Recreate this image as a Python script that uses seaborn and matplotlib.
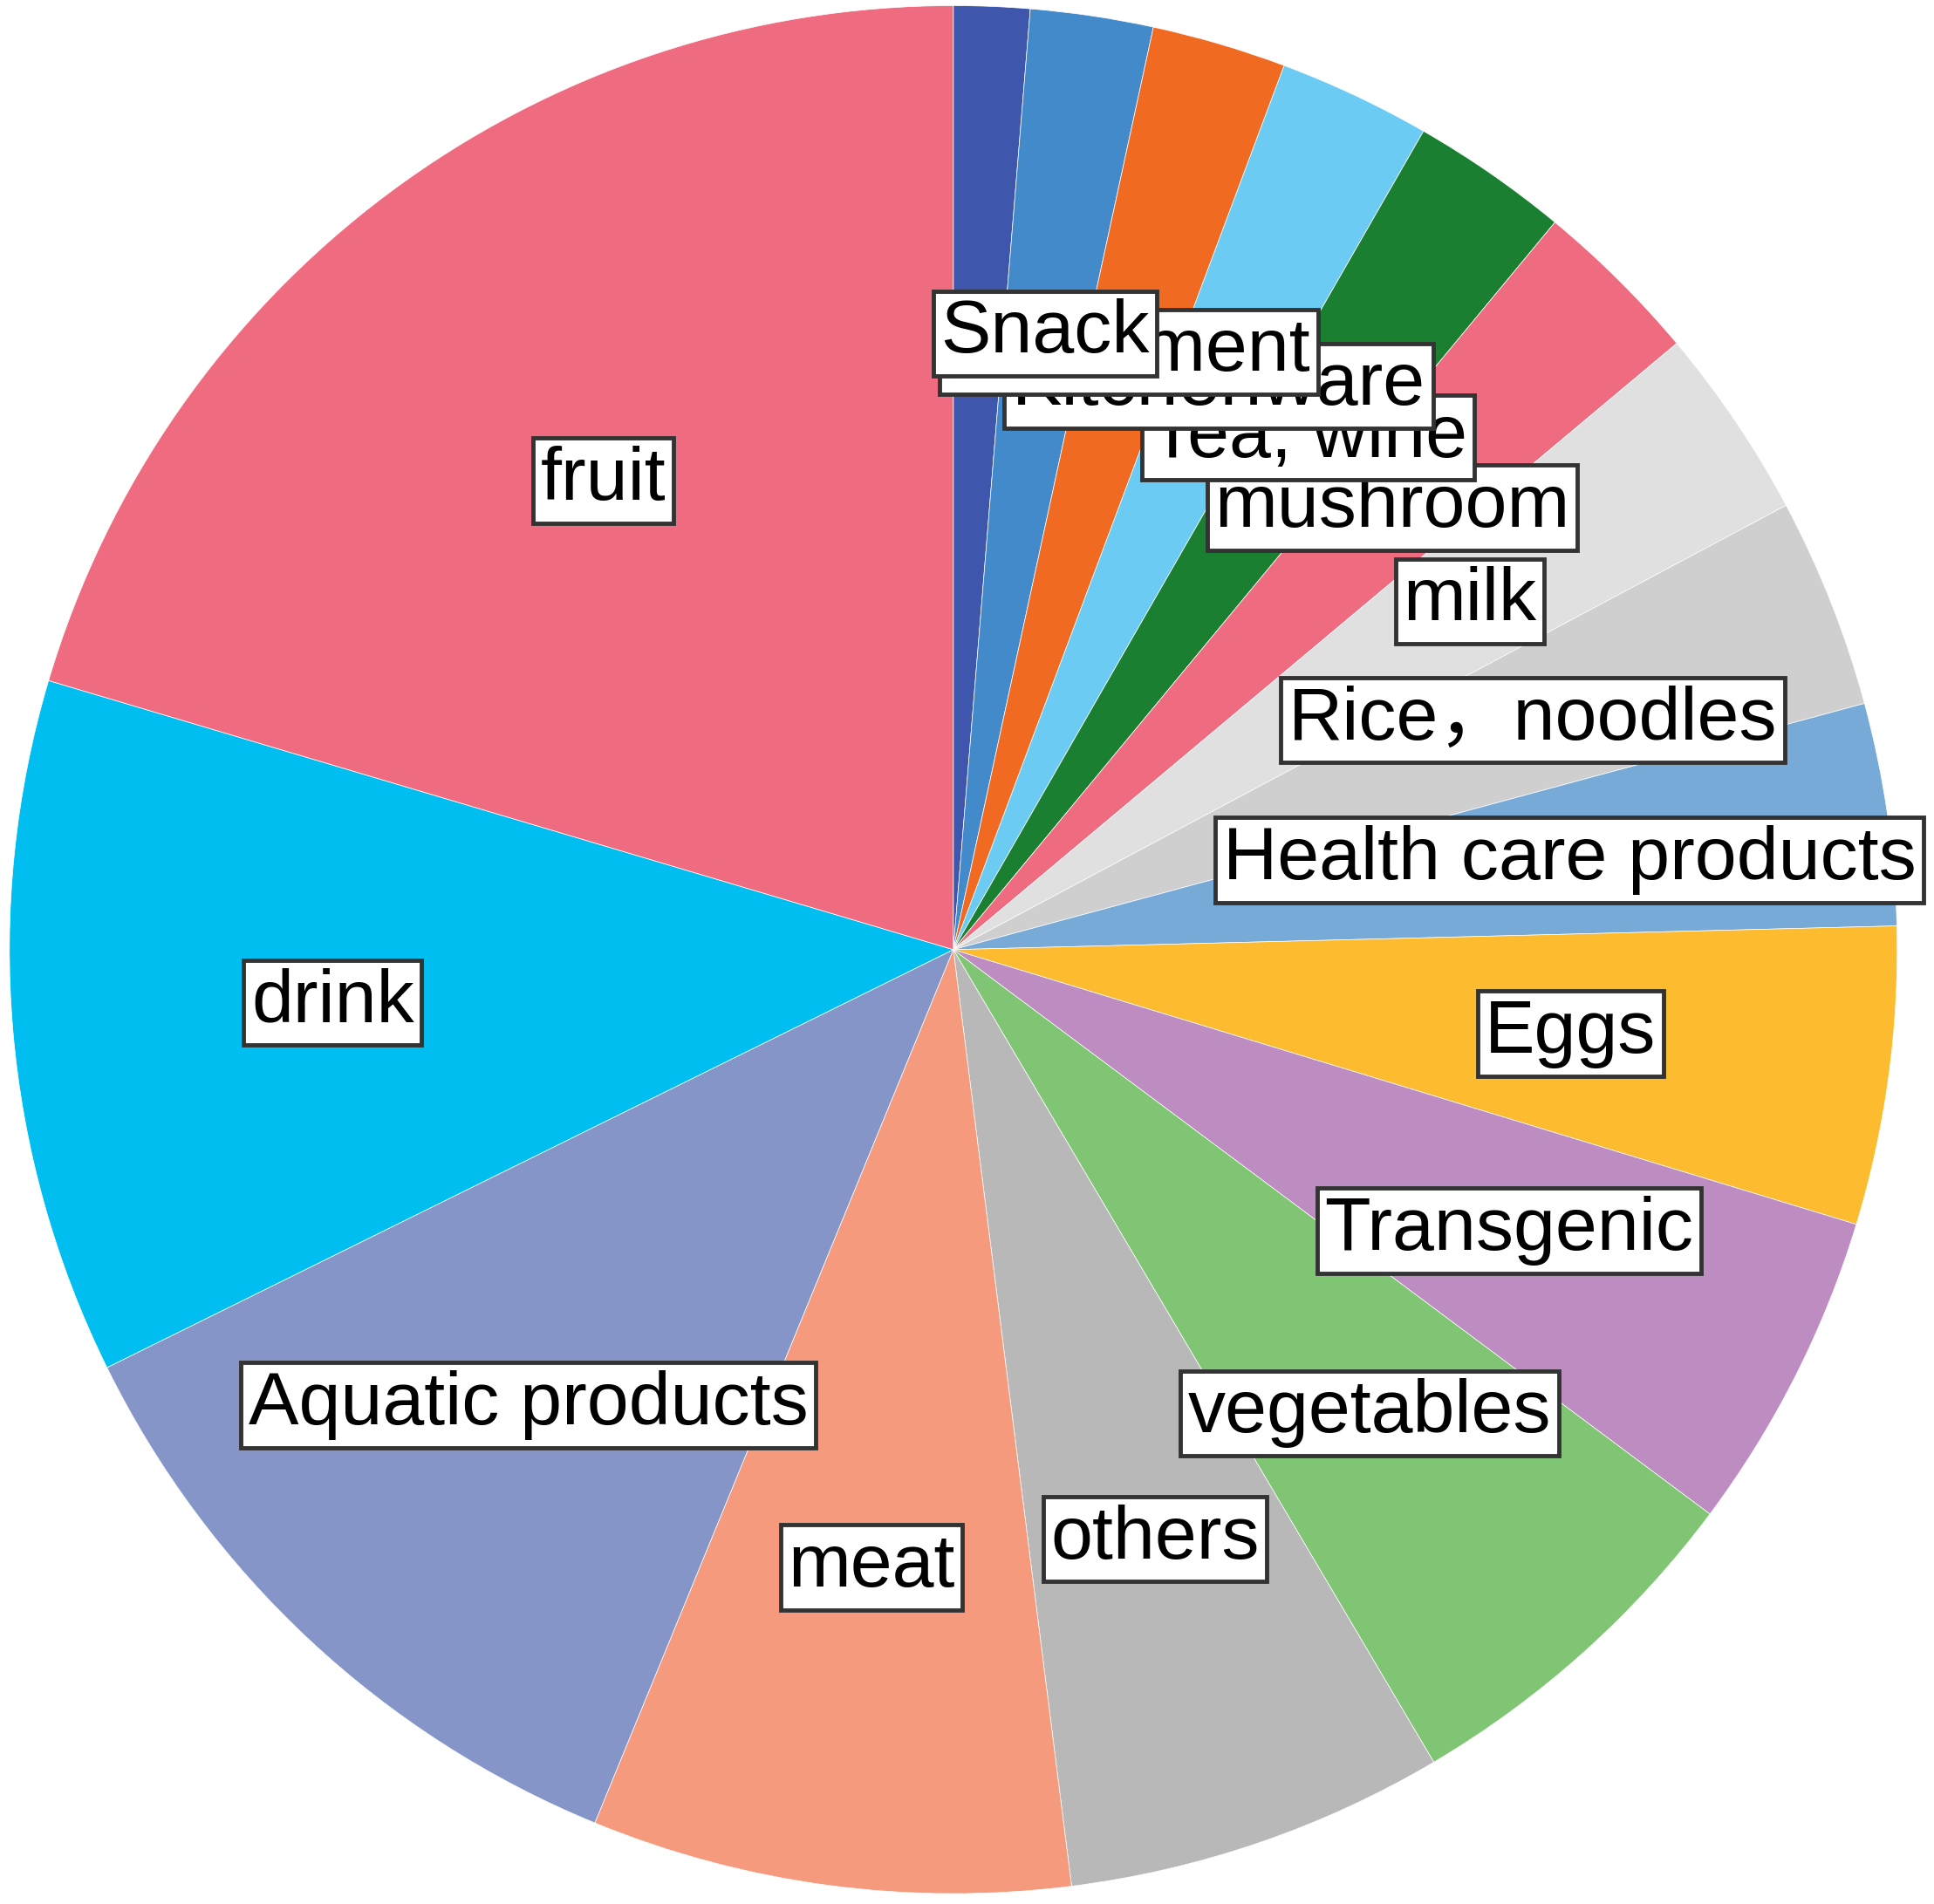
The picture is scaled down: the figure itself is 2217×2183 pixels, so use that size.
import numpy as np
import matplotlib
matplotlib.use('Agg')
import matplotlib.pyplot as plt
import seaborn as sns

# category shares (%), clockwise from 12 o'clock
categories = ['', 'Snack', 'Condiment', 'Kitchenware', 'Tea, wine', 'mushroom', 'milk',
              'Rice\uff0cnoodles', 'Health care products', 'Eggs', 'Transgenic',
              'vegetables', 'others', 'meat', 'Aquatic products', 'drink', 'fruit']
shares = [1.3, 2.1, 2.3, 2.6, 2.7, 2.9, 3.3, 3.6, 3.8, 5.1, 5.5, 6.3, 6.5, 8.2, 11.5, 11.9, 20.4]
colors = ['#3f56ad', '#428ac9', '#f06a22', '#6ccbf3', '#1b7f31', '#ef6b80', '#e0e0e0',
          '#cfcfcf', '#78aad8', '#fdbb2f', '#bd8cc0', '#80c574', '#b8b8b8', '#f59a7c',
          '#8595c8', '#00bff0', '#ef6c80']

sns.set_theme(style='white')
plt.rcParams['font.family'] = ['Liberation Sans', 'Noto Sans CJK SC', 'DejaVu Sans']

fig = plt.figure(figsize=(22.17, 21.83), dpi=100)
ax = fig.add_axes([0, 0, 1, 1])

wedges, _ = ax.pie(shares, colors=sns.color_palette(colors), startangle=90,
                   counterclock=False, radius=1.0,
                   wedgeprops=dict(edgecolor='white', linewidth=0.5))

# labels boxed at ~2/3 of the radius, earlier slices drawn on top
for i in reversed(range(len(wedges))):
    if not categories[i]:
        continue
    w = wedges[i]
    mid = np.deg2rad((w.theta1 + w.theta2) / 2)
    dist = 0.62 if w.theta2 - w.theta1 > 60 else 0.66
    r = dist * w.r
    ax.text(r * np.cos(mid), r * np.sin(mid), categories[i],
            ha='center', va='center', fontsize=62, color='black',
            zorder=10 + len(wedges) - i,
            bbox=dict(boxstyle='square,pad=0.1', facecolor='white',
                      edgecolor='#333333', linewidth=3.5))

ax.set_xlim(-1.010, 1.039)
ax.set_ylim(-1.011, 1.006)
ax.set_aspect('auto')
ax.axis('off')

fig.savefig('out.png', dpi=100, facecolor='white')
